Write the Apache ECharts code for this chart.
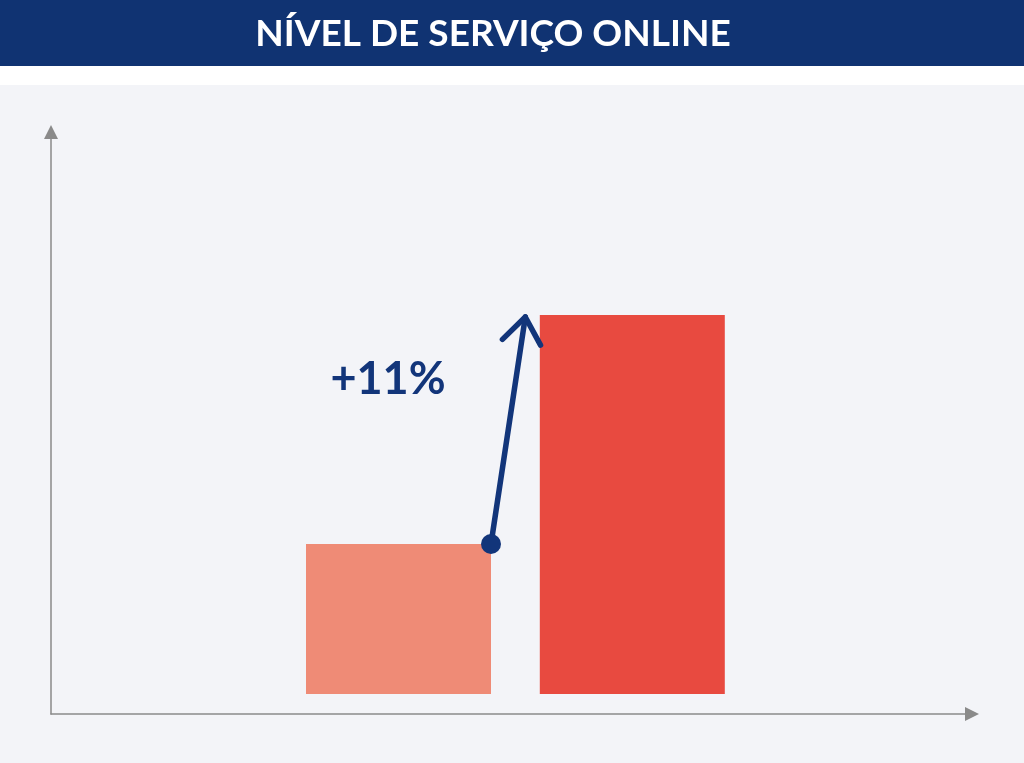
<!DOCTYPE html>
<html>
<head>
<meta charset="utf-8">
<script src="https://cdn.jsdelivr.net/npm/echarts@6/dist/echarts.min.js"></script>
<style>
html,body{margin:0;padding:0;background:#f3f4f8;}
#c{width:1024px;height:763px;}
</style>
</head>
<body>
<div id="c"></div>
<script>
// ---- data ----
const titleText = 'NÍVEL DE SERVIÇO ONLINE';
const categories = ['Antes', 'Depois'];
const values = [150, 379];
const changeLabel = '+11%';
const barColors = ['#ef8b76', '#e84a40'];

const NAVY = '#12357a';
const BAR_W = 185;
const AXIS_COLOR = '#8a8a8a';

const chart = echarts.init(document.getElementById('c'), null, {renderer: 'canvas'});

function renderArrow(params, api) {
  const a = api.coord([0, values[0]]);
  const b = api.coord([1, values[1]]);
  const half = BAR_W / 2;
  const sx = a[0] + half, sy = a[1];
  const tx = b[0] - half - 14.5, ty = b[1] + 2;
  const dx = sx - tx, dy = sy - ty;
  const len = Math.sqrt(dx * dx + dy * dy);
  const ux = dx / len, uy = dy / len;
  const wl = 32, ang = 37 * Math.PI / 180;
  function rot(t) {
    return [tx + wl * (ux * Math.cos(t) - uy * Math.sin(t)), ty + wl * (ux * Math.sin(t) + uy * Math.cos(t))];
  }
  const w1 = rot(ang), w2 = rot(-ang);
  const lineStyle = {stroke: NAVY, lineWidth: 5.5, lineCap: 'round', lineJoin: 'round', fill: null};
  return {
    type: 'group',
    children: [
      {type: 'line', shape: {x1: sx, y1: sy, x2: tx, y2: ty}, style: lineStyle},
      {type: 'polyline', shape: {points: [w1, [tx, ty], w2]}, style: lineStyle},
      {type: 'circle', shape: {cx: sx, cy: sy, r: 10}, style: {fill: NAVY}},
      {type: 'text', x: sx - 103, y: sy - 165, style: {
        text: changeLabel, fill: NAVY, font: 'bold 45px Lato', align: 'center', verticalAlign: 'middle'
      }}
    ]
  };
}

const option = {
  backgroundColor: '#f3f4f8',
  animation: false,
  graphic: [
    {type: 'rect', z: 0, shape: {x: 0, y: 0, width: 1024, height: 66}, style: {fill: '#103372'}},
    {type: 'rect', z: 0, shape: {x: 0, y: 66, width: 1024, height: 19}, style: {fill: '#ffffff'}},
    {type: 'text', z: 1, x: 493, y: 34, style: {
      text: titleText, fill: '#ffffff', font: 'bold 37px Lato', align: 'center', verticalAlign: 'middle'
    }}
  ],
  grid: [
    {left: 51, right: 52, top: 132, bottom: 49},
    {left: 281.6, width: 467.6, top: 132, bottom: 49}
  ],
  xAxis: [
    {gridIndex: 0, type: 'value', min: 0, max: 1,
      axisLine: {show: true, onZero: false, symbol: ['none', 'triangle'], symbolSize: [14, 14], lineStyle: {color: AXIS_COLOR, width: 1.5}},
      axisTick: {show: false}, axisLabel: {show: false}, splitLine: {show: false}},
    {gridIndex: 1, type: 'category', data: categories,
      axisLine: {show: false}, axisTick: {show: false}, axisLabel: {show: false}, splitLine: {show: false}}
  ],
  yAxis: [
    {gridIndex: 0, type: 'value', min: -20, max: 562,
      axisLine: {show: true, onZero: false, symbol: ['none', 'triangle'], symbolSize: [14, 14], lineStyle: {color: AXIS_COLOR, width: 1.5}},
      axisTick: {show: false}, axisLabel: {show: false}, splitLine: {show: false}},
    {gridIndex: 1, type: 'value', min: -20, max: 562,
      axisLine: {show: false}, axisTick: {show: false}, axisLabel: {show: false}, splitLine: {show: false}}
  ],
  series: [
    {type: 'bar', xAxisIndex: 1, yAxisIndex: 1, barWidth: BAR_W,
      data: values.map((v, i) => ({value: v, itemStyle: {color: barColors[i]}}))},
    {type: 'custom', xAxisIndex: 1, yAxisIndex: 1, z: 5, data: [[0, 0]], renderItem: renderArrow, silent: true}
  ]
};
chart.setOption(option);
</script>
</body>
</html>
